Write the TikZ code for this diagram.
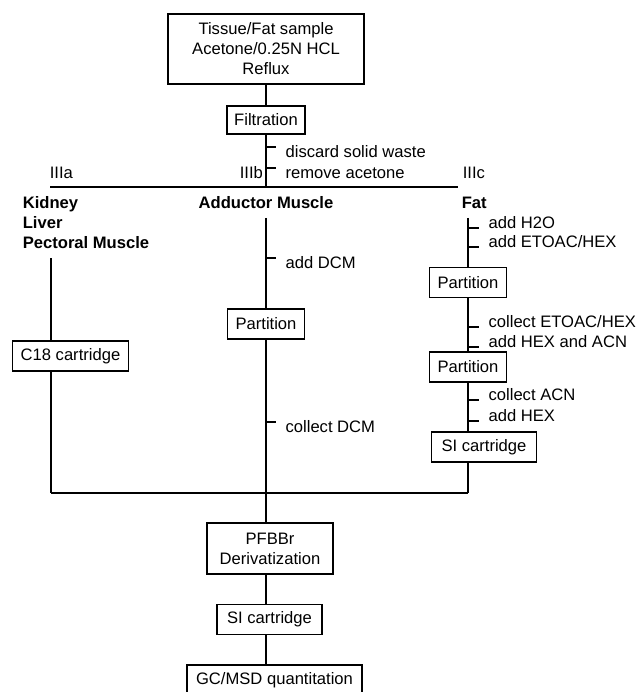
\documentclass[tikz,border=0pt]{standalone}
\usepackage{fontspec}
\setmainfont{Liberation Sans}
\usetikzlibrary{positioning,calc}

\begin{document}
\begin{tikzpicture}[x=1pt,y=-1pt,line width=1.6pt,
  every node/.style={font=\fontsize{16.6}{20}\selectfont,inner sep=0pt},
  stepbox/.style={draw,line width=1.6pt,inner xsep=8pt,minimum height=30pt},
  note/.style={anchor=west},
  tissue/.style={font=\fontsize{16.6}{20}\selectfont\bfseries}]
  \useasboundingbox (0,0) rectangle (639,692);

  % extraction
  \node[stepbox,minimum width=196pt,minimum height=70pt,align=center] (sample) at (266,49)
    {Tissue/Fat sample\\Acetone/0.25N HCL\\Reflux};
  \node[stepbox,inner xsep=7pt,minimum height=28pt] (filt) at (266,120) {Filtration};
  \coordinate (split) at (266,187);
  \coordinate (la) at (50,187);
  \coordinate (lc) at (458,187);
  \draw (sample) -- (filt);
  \draw (filt) -- (split);
  \draw (la) -- (lc);
  \node[note] (IIIa) at (49,173) {IIIa};
  \node[note] (IIIb) at (239,173) {IIIb};
  \node[note] (IIIc) at (462,173) {IIIc};

  % tissues
  \node[tissue,note,align=left] (organs) at (22,223) {Kidney\\Liver\\Pectoral Muscle};
  \node[tissue] (adductor) at (266,203) {Adductor Muscle};
  \node[tissue,note] (fat) at (461,203) {Fat};

  % IIIa
  \coordinate (lefttop) at (51,258);
  \coordinate (leftbot) at (51,493);
  \node[stepbox] (c18) at (70.5,356) {C18 cartridge};
  \draw (lefttop) -- (lefttop |- c18.north);
  \draw (c18.south -| leftbot) -- (leftbot);

  % IIIb
  \coordinate (midtop) at (266,218);
  \coordinate (join) at (266,493);
  \node[stepbox] (partB) at (266,324) {Partition};
  \draw (midtop) -- (partB);
  \draw (partB) -- (join);

  % IIIc
  \coordinate (righttop) at (468,218);
  \coordinate (rightbot) at (468,493);
  \node[stepbox] (partC) at (468,282.5) {Partition};
  \node[stepbox] (partD) at (468,367) {Partition};
  \node[stepbox,inner xsep=10pt] (siC) at (484,447) {SI cartridge};
  \draw (righttop) -- (partC);
  \draw (partC) -- (partD);
  \draw (partD.south) -- (partD.south |- siC.north);
  \draw (siC.south -| rightbot) -- (rightbot);
  \draw (leftbot) -- (rightbot);

  % side steps
  \foreach \y/\txt in {147/discard solid waste,168/remove acetone,258/add DCM,422/collect DCM}
    \draw[line width=1.2pt] (266,\y) -- ++(10,0) node[note,xshift=9pt,yshift=-5pt] (m\y) {\txt};
  \foreach \y/\txt in {228/{add H2O},247/{add ETOAC/HEX},327/{collect ETOAC/HEX},347/{add HEX and ACN},400/{collect ACN},421/{add HEX}}
    \draw[line width=1.2pt] (468,\y) -- ++(11,0) node[note,xshift=9pt,yshift=5pt] (r\y) {\txt};

  % clean-up and analysis
  \node[stepbox,minimum width=126pt,minimum height=51pt,align=center] (deriv) at (270,548.5)
    {PFBBr\\Derivatization};
  \node[stepbox,inner xsep=10pt] (siB) at (269.5,619.5) {SI cartridge};
  \node[stepbox,inner xsep=9pt] (gc) at (274.5,680) {GC/MSD quantitation};
  \draw (join) -- (join |- deriv.north);
  \draw (deriv.south -| join) -- (siB.north -| join);
  \draw (siB.south -| join) -- (gc.north -| join);
\end{tikzpicture}
\end{document}
